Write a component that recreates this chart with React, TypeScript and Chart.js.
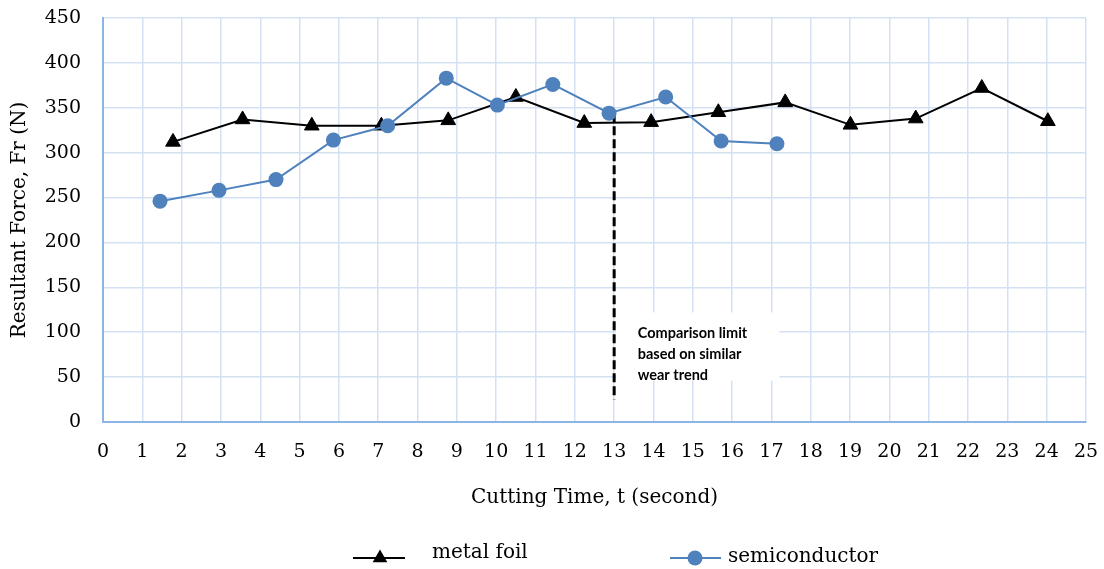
import React, { useEffect, useRef } from "react";
import { Chart, registerables } from "chart.js";

Chart.register(...registerables);

// ---- data ----
const metalFoilTime = [1.78, 3.55, 5.31, 7.08, 8.78, 10.5, 12.24, 13.94, 15.65, 17.35, 19.01, 20.67, 22.35, 24.03];
const metalFoilForce = [312, 337, 330, 330, 336, 362, 333, 334, 345, 356, 331, 338, 372, 335];

const semiTime = [1.45, 2.95, 4.4, 5.86, 7.24, 8.73, 10.03, 11.44, 12.87, 14.31, 15.72, 17.14];
const semiForce = [246, 258, 270, 314, 330, 383, 353, 376, 344, 362, 313, 310];

const limitTime = [13, 13];
const limitForce = [344, 25];

const xRange = [0, 25];
const yRange = [0, 450];
const xStep = 1;
const yStep = 50;

const seriesNames = ["metal foil", "semiconductor"];
const annotationLines = ["Comparison limit", "based on similar", "wear trend"];
const xTitle = "Cutting Time, t (second)";
const yTitle = "Resultant Force, Fr (N)";

const SERIF = "'DejaVu Serif', serif";
const BLUE = "#4f81bd";
const GRID = "#d4e1f3";
const AXIS = "#8eb4e3";

export default function App() {
  const ref = useRef<HTMLCanvasElement>(null);

  useEffect(() => {
    if (!ref.current) return;

    const annotationPlugin = {
      id: "annotBox",
      beforeDatasetsDraw(chart: any) {
        const { ctx, scales } = chart;
        const x = scales.x;
        const y = scales.y;
        const l = x.getPixelForValue(13.05);
        const r = x.getPixelForValue(17.2);
        const t = y.getPixelForValue(122);
        const b = y.getPixelForValue(46);
        ctx.save();
        ctx.fillStyle = "#ffffff";
        ctx.fillRect(l, t, r - l, b - t);
        ctx.fillStyle = "#000000";
        ctx.font = "bold 14.5px Lato, sans-serif";
        ctx.textBaseline = "middle";
        ctx.textAlign = "left";
        const tx = x.getPixelForValue(13.6);
        const lineVals = [99, 75.5, 52];
        annotationLines.forEach((s, i) => {
          ctx.fillText(s, tx, y.getPixelForValue(lineVals[i]));
        });
        ctx.restore();
      },
    };

    const legendPlugin = {
      id: "customLegend",
      afterDraw(chart: any) {
        const { ctx } = chart;
        const ly = 558;
        ctx.save();
        // metal foil
        ctx.strokeStyle = "#000";
        ctx.lineWidth = 2;
        ctx.beginPath();
        ctx.moveTo(353, ly);
        ctx.lineTo(405, ly);
        ctx.stroke();
        const r = 8.5;
        const cx = 380;
        ctx.fillStyle = "#000";
        ctx.beginPath();
        ctx.moveTo(cx, ly - r);
        ctx.lineTo(cx + 0.866 * r, ly + r / 2);
        ctx.lineTo(cx - 0.866 * r, ly + r / 2);
        ctx.closePath();
        ctx.fill();
        ctx.font = `20px ${SERIF}`;
        ctx.textBaseline = "middle";
        ctx.textAlign = "left";
        ctx.fillText(seriesNames[0], 432, ly - 5);
        // semiconductor
        ctx.strokeStyle = BLUE;
        ctx.beginPath();
        ctx.moveTo(670, ly);
        ctx.lineTo(721, ly);
        ctx.stroke();
        ctx.fillStyle = BLUE;
        ctx.beginPath();
        ctx.arc(695, ly, 7.5, 0, Math.PI * 2);
        ctx.fill();
        ctx.fillStyle = "#000";
        ctx.fillText(seriesNames[1], 728, ly - 1);
        ctx.restore();
      },
    };

    const chart = new Chart(ref.current, {
      type: "line",
      data: {
        datasets: [
          {
            label: seriesNames[0],
            data: metalFoilTime.map((t, i) => ({ x: t, y: metalFoilForce[i] })),
            borderColor: "#000",
            backgroundColor: "#000",
            borderWidth: 2,
            pointStyle: "triangle",
            pointRadius: 8.5,
            pointBorderWidth: 1,
            pointBorderColor: "#000",
            pointBackgroundColor: "#000",
            tension: 0,
            order: 2,
          },
          {
            label: seriesNames[1],
            data: semiTime.map((t, i) => ({ x: t, y: semiForce[i] })),
            borderColor: BLUE,
            backgroundColor: BLUE,
            borderWidth: 2,
            pointStyle: "circle",
            pointRadius: 7.5,
            pointBorderWidth: 0,
            pointBackgroundColor: BLUE,
            tension: 0,
            order: 1,
          },
          {
            label: "limit",
            data: limitTime.map((t, i) => ({ x: t, y: limitForce[i] })),
            borderColor: "#000",
            borderWidth: 3,
            borderDash: [9, 4],
            pointRadius: 0,
            order: 3,
          },
        ],
      },
      options: {
        responsive: false,
        animation: false,
        layout: { padding: { left: 0, right: 18, top: 18, bottom: 59 } },
        plugins: {
          legend: { display: false },
          tooltip: { enabled: false },
        },
        scales: {
          x: {
            type: "linear",
            min: xRange[0],
            max: xRange[1],
            ticks: {
              stepSize: xStep,
              color: "#000",
              font: { family: SERIF, size: 19 },
              padding: 19,
              maxRotation: 0,
              autoSkip: false,
            },
            grid: { color: GRID, lineWidth: 1.5, drawTicks: false },
            border: { color: AXIS, width: 2 },
            title: {
              display: true,
              text: xTitle,
              color: "#000",
              font: { family: SERIF, size: 20 },
              padding: { top: 0, bottom: 0 },
            },
            afterFit(scale: any) {
              scale.height = 88;
              scale.paddingLeft = 0;
              scale.paddingRight = 0;
            },
          },
          y: {
            type: "linear",
            min: yRange[0],
            max: yRange[1],
            ticks: {
              stepSize: yStep,
              color: "#000",
              font: { family: SERIF, size: 19 },
              padding: 22,
            },
            grid: { color: GRID, lineWidth: 1.5, drawTicks: false },
            border: { color: AXIS, width: 2 },
            title: {
              display: true,
              text: yTitle,
              color: "#000",
              font: { family: SERIF, size: 20 },
              padding: { top: 8, bottom: 0 },
            },
            afterFit(scale: any) {
              scale.width = 103;
              scale.paddingTop = 0;
              scale.paddingBottom = 0;
            },
          },
        },
      },
      plugins: [annotationPlugin, legendPlugin],
    } as any);

    return () => chart.destroy();
  }, []);

  return (
    <div style={{ position: "absolute", left: 0, top: 0, width: 1104, height: 569, background: "#fff" }}>
      <canvas ref={ref} width={1104} height={569} />
    </div>
  );
}
